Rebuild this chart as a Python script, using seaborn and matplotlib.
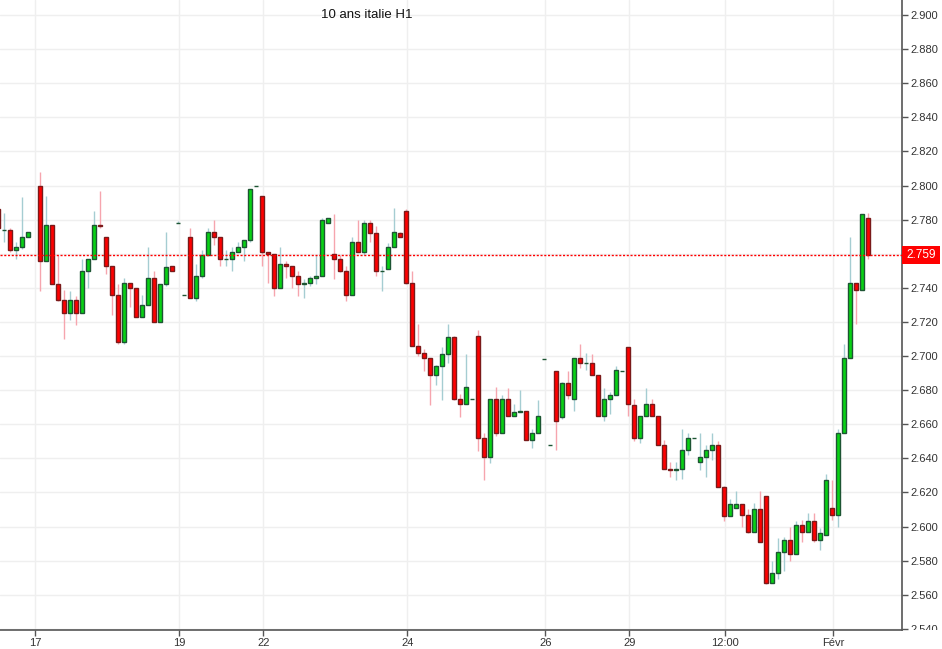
import matplotlib
matplotlib.use("Agg")

import matplotlib.pyplot as plt
import numpy as np
import pandas as pd
import seaborn as sns
from matplotlib.patches import Rectangle
from matplotlib.ticker import MultipleLocator
from matplotlib.transforms import Bbox, TransformedBbox, blended_transform_factory


TITLE = "10 ans italie H1"
LAST_PRICE = 2.759

# hourly candle slots (slot 5 has no candle)
slots = [-1, 0, 1, 2, 3, 4] + list(range(6, 145))

opens = [
    2.786, 2.774, 2.774, 2.762, 2.764, 2.770,
    2.800, 2.756, 2.777, 2.742, 2.733, 2.725, 2.733, 2.725, 2.750, 2.757,
    2.777, 2.770, 2.753, 2.736, 2.708, 2.743, 2.740, 2.723, 2.730, 2.746,
    2.720, 2.742, 2.753, 2.778, 2.736, 2.770, 2.734, 2.747, 2.759, 2.773,
    2.770, 2.757, 2.757, 2.761, 2.764, 2.768, 2.800, 2.794, 2.761, 2.760,
    2.740, 2.754, 2.753, 2.747, 2.742, 2.743, 2.746, 2.747, 2.778, 2.760,
    2.757, 2.750, 2.736, 2.767, 2.761, 2.778, 2.772, 2.750, 2.751, 2.764,
    2.772, 2.785, 2.743, 2.706, 2.702, 2.699, 2.689, 2.694, 2.701, 2.711,
    2.675, 2.672, 2.675, 2.712, 2.652, 2.641, 2.675, 2.655, 2.675, 2.665,
    2.667, 2.668, 2.651, 2.655, 2.698, 2.648, 2.691, 2.664, 2.684, 2.675,
    2.699, 2.696, 2.696, 2.689, 2.665, 2.675, 2.677, 2.691, 2.705, 2.671,
    2.652, 2.665, 2.672, 2.665, 2.648, 2.634, 2.633, 2.634, 2.645, 2.652,
    2.638, 2.641, 2.645, 2.648, 2.623, 2.606, 2.611, 2.613, 2.607, 2.597,
    2.610, 2.618, 2.567, 2.573, 2.585, 2.592, 2.584, 2.601, 2.597, 2.603,
    2.592, 2.595, 2.611, 2.607, 2.655, 2.699, 2.743, 2.739, 2.781,
]
highs = [
    2.789, 2.784, 2.775, 2.767, 2.793, 2.773,
    2.808, 2.794, 2.777, 2.759, 2.739, 2.738, 2.735, 2.757, 2.757, 2.785,
    2.797, 2.770, 2.753, 2.742, 2.746, 2.743, 2.740, 2.736, 2.764, 2.750,
    2.742, 2.773, 2.753, 2.779, 2.736, 2.775, 2.754, 2.762, 2.775, 2.780,
    2.770, 2.762, 2.764, 2.767, 2.768, 2.798, 2.800, 2.794, 2.761, 2.760,
    2.764, 2.756, 2.753, 2.750, 2.745, 2.747, 2.759, 2.781, 2.781, 2.783,
    2.759, 2.753, 2.770, 2.780, 2.780, 2.780, 2.776, 2.753, 2.766, 2.787,
    2.773, 2.786, 2.750, 2.719, 2.704, 2.699, 2.695, 2.705, 2.719, 2.712,
    2.678, 2.701, 2.675, 2.715, 2.655, 2.675, 2.682, 2.677, 2.681, 2.672,
    2.680, 2.668, 2.657, 2.674, 2.698, 2.648, 2.691, 2.685, 2.691, 2.699,
    2.707, 2.702, 2.701, 2.689, 2.681, 2.679, 2.694, 2.691, 2.705, 2.675,
    2.665, 2.681, 2.675, 2.665, 2.651, 2.638, 2.638, 2.657, 2.655, 2.652,
    2.655, 2.648, 2.655, 2.650, 2.624, 2.616, 2.621, 2.613, 2.610, 2.614,
    2.621, 2.618, 2.580, 2.593, 2.594, 2.600, 2.603, 2.604, 2.608, 2.608,
    2.599, 2.631, 2.627, 2.657, 2.707, 2.770, 2.743, 2.783, 2.784,
]
lows = [
    2.773, 2.767, 2.761, 2.757, 2.763, 2.770,
    2.738, 2.756, 2.742, 2.732, 2.710, 2.721, 2.718, 2.725, 2.740, 2.757,
    2.775, 2.748, 2.724, 2.707, 2.707, 2.729, 2.723, 2.723, 2.730, 2.720,
    2.720, 2.741, 2.750, 2.778, 2.736, 2.734, 2.732, 2.746, 2.759, 2.765,
    2.753, 2.753, 2.750, 2.761, 2.756, 2.767, 2.800, 2.753, 2.743, 2.735,
    2.740, 2.746, 2.740, 2.735, 2.734, 2.741, 2.742, 2.747, 2.778, 2.745,
    2.749, 2.732, 2.736, 2.761, 2.759, 2.767, 2.747, 2.738, 2.751, 2.764,
    2.770, 2.742, 2.706, 2.700, 2.691, 2.671, 2.683, 2.674, 2.696, 2.674,
    2.664, 2.672, 2.675, 2.644, 2.627, 2.637, 2.653, 2.655, 2.665, 2.665,
    2.667, 2.651, 2.646, 2.655, 2.698, 2.648, 2.645, 2.663, 2.675, 2.668,
    2.693, 2.692, 2.689, 2.665, 2.662, 2.666, 2.677, 2.691, 2.665, 2.650,
    2.649, 2.665, 2.665, 2.648, 2.634, 2.629, 2.627, 2.628, 2.642, 2.652,
    2.633, 2.629, 2.639, 2.623, 2.603, 2.606, 2.611, 2.600, 2.596, 2.597,
    2.591, 2.566, 2.567, 2.569, 2.574, 2.580, 2.584, 2.591, 2.597, 2.591,
    2.586, 2.595, 2.604, 2.600, 2.655, 2.699, 2.719, 2.739, 2.757,
]
closes = [
    2.775, 2.774, 2.762, 2.764, 2.770, 2.773,
    2.756, 2.777, 2.742, 2.733, 2.725, 2.733, 2.725, 2.750, 2.757, 2.777,
    2.776, 2.753, 2.736, 2.708, 2.743, 2.740, 2.723, 2.730, 2.746, 2.720,
    2.742, 2.752, 2.750, 2.778, 2.736, 2.734, 2.747, 2.759, 2.773, 2.770,
    2.757, 2.757, 2.761, 2.764, 2.768, 2.798, 2.800, 2.761, 2.760, 2.740,
    2.754, 2.753, 2.747, 2.742, 2.743, 2.746, 2.747, 2.780, 2.781, 2.757,
    2.750, 2.736, 2.767, 2.761, 2.778, 2.772, 2.750, 2.750, 2.764, 2.773,
    2.770, 2.743, 2.706, 2.702, 2.699, 2.689, 2.694, 2.701, 2.711, 2.675,
    2.672, 2.682, 2.675, 2.652, 2.641, 2.675, 2.655, 2.675, 2.665, 2.667,
    2.668, 2.651, 2.655, 2.665, 2.698, 2.648, 2.662, 2.684, 2.677, 2.699,
    2.696, 2.696, 2.689, 2.665, 2.675, 2.677, 2.692, 2.691, 2.672, 2.652,
    2.665, 2.672, 2.665, 2.648, 2.634, 2.633, 2.634, 2.645, 2.652, 2.652,
    2.641, 2.645, 2.648, 2.623, 2.606, 2.613, 2.613, 2.607, 2.597, 2.610,
    2.591, 2.567, 2.573, 2.585, 2.592, 2.584, 2.601, 2.597, 2.603, 2.592,
    2.596, 2.627, 2.607, 2.655, 2.699, 2.743, 2.739, 2.783, 2.759,
]

day_slots = [5, 29, 43, 67, 90, 104, 120, 138]
day_labels = ["17", "19", "22", "24", "26", "29", "12:00", "Févr"]

UP_FILL = "#08d214"
UP_EDGE = "#1d5533"
UP_WICK = "#a5cdd2"
DOWN_FILL = "#ff0000"
DOWN_EDGE = "#7a1a1a"
DOWN_WICK = "#f6a5ae"
GRID = "#efefef"
AXIS = "#555555"
TEXT = "#333333"


def build_frame() -> pd.DataFrame:
    df = pd.DataFrame({"slot": slots, "open": opens, "high": highs, "low": lows, "close": closes})
    df["up"] = df["close"] >= df["open"]
    df["body_low"] = df[["open", "close"]].min(axis=1)
    df["body_height"] = (df["close"] - df["open"]).abs()
    return df


def draw_candles(ax: plt.Axes, df: pd.DataFrame) -> None:
    width = 0.72
    for up, fill, edge, wick in [(True, UP_FILL, UP_EDGE, UP_WICK), (False, DOWN_FILL, DOWN_EDGE, DOWN_WICK)]:
        part = df[df["up"] == up]
        ax.vlines(part["slot"], part["low"], part["high"], color=wick, linewidth=1.0, zorder=3)
        ax.bar(
            part["slot"], part["body_height"], bottom=part["body_low"], width=width,
            color=fill, edgecolor=edge, linewidth=1.0, zorder=4,
        )


def main() -> None:
    sns.set_theme(style="white")
    plt.rcParams["font.family"] = ["Liberation Sans", "DejaVu Sans"]

    df = build_frame()

    fig = plt.figure(figsize=(9.42, 6.49), dpi=100)
    ax = fig.add_axes([0.0, 19 / 649, 902.3 / 942, 630 / 649])

    draw_candles(ax, df)

    ax.set_xlim(-0.717, 149.67)
    ax.set_ylim(2.5393, 2.9088)

    ax.yaxis.tick_right()
    ax.yaxis.set_major_locator(MultipleLocator(0.02))
    ax.yaxis.set_major_formatter(matplotlib.ticker.FormatStrFormatter("%.3f"))
    ax.set_xticks([s + 0.17 for s in day_slots])
    ax.set_xticklabels(day_labels)

    ax.grid(True, color=GRID, linewidth=1.0, zorder=0)
    ax.set_axisbelow(True)
    for side in ["top", "left"]:
        ax.spines[side].set_visible(False)
    for side in ["right", "bottom"]:
        ax.spines[side].set_visible(True)
        ax.spines[side].set_color(AXIS)
        ax.spines[side].set_linewidth(1.2)
    ax.tick_params(axis="both", which="major", direction="out", length=4, width=1,
                   color=AXIS, labelcolor=TEXT, labelsize=8, pad=2)
    ax.tick_params(axis="y", left=False, right=True, labelleft=False, labelright=True)
    ax.tick_params(axis="x", bottom=True)

    # current price line with tag on the axis
    ax.axhline(LAST_PRICE, color="#ff0000", linestyle=(0, (1.5, 1.2)), linewidth=1.0, zorder=5)
    blend = blended_transform_factory(ax.transAxes, ax.transData)
    tag_h = 18 / 1705.9
    ax.add_patch(Rectangle((1.0, LAST_PRICE - tag_h / 2), 38 / 902.3, tag_h, transform=blend,
                           facecolor="#ff0000", edgecolor="none", clip_on=False, zorder=10))
    ax.text(1.0 + 19 / 902.3, LAST_PRICE, f"{LAST_PRICE:.3f}", transform=blend, ha="center",
            va="center", color="white", fontsize=8.5, clip_on=False, zorder=11)

    fig.text(367 / 942, 1 - 15 / 649, TITLE, ha="center", va="center", fontsize=9.5, color="#111111")

    # the lowest tick label is cut at the bottom axis line, 2.760 sits under the price tag
    fig.canvas.draw()
    clip = TransformedBbox(Bbox([[0, 19 / 649], [1, 1]]), fig.transFigure)
    for tick in ax.yaxis.get_major_ticks():
        if abs(tick.get_loc() - 2.54) < 1e-6:
            tick.label2.set_clip_box(clip)
            tick.label2.set_clip_on(True)
        if abs(tick.get_loc() - 2.76) < 1e-6:
            tick.label2.set_visible(False)

    fig.savefig("out.png", dpi=100)
    plt.close(fig)


if __name__ == "__main__":
    main()
